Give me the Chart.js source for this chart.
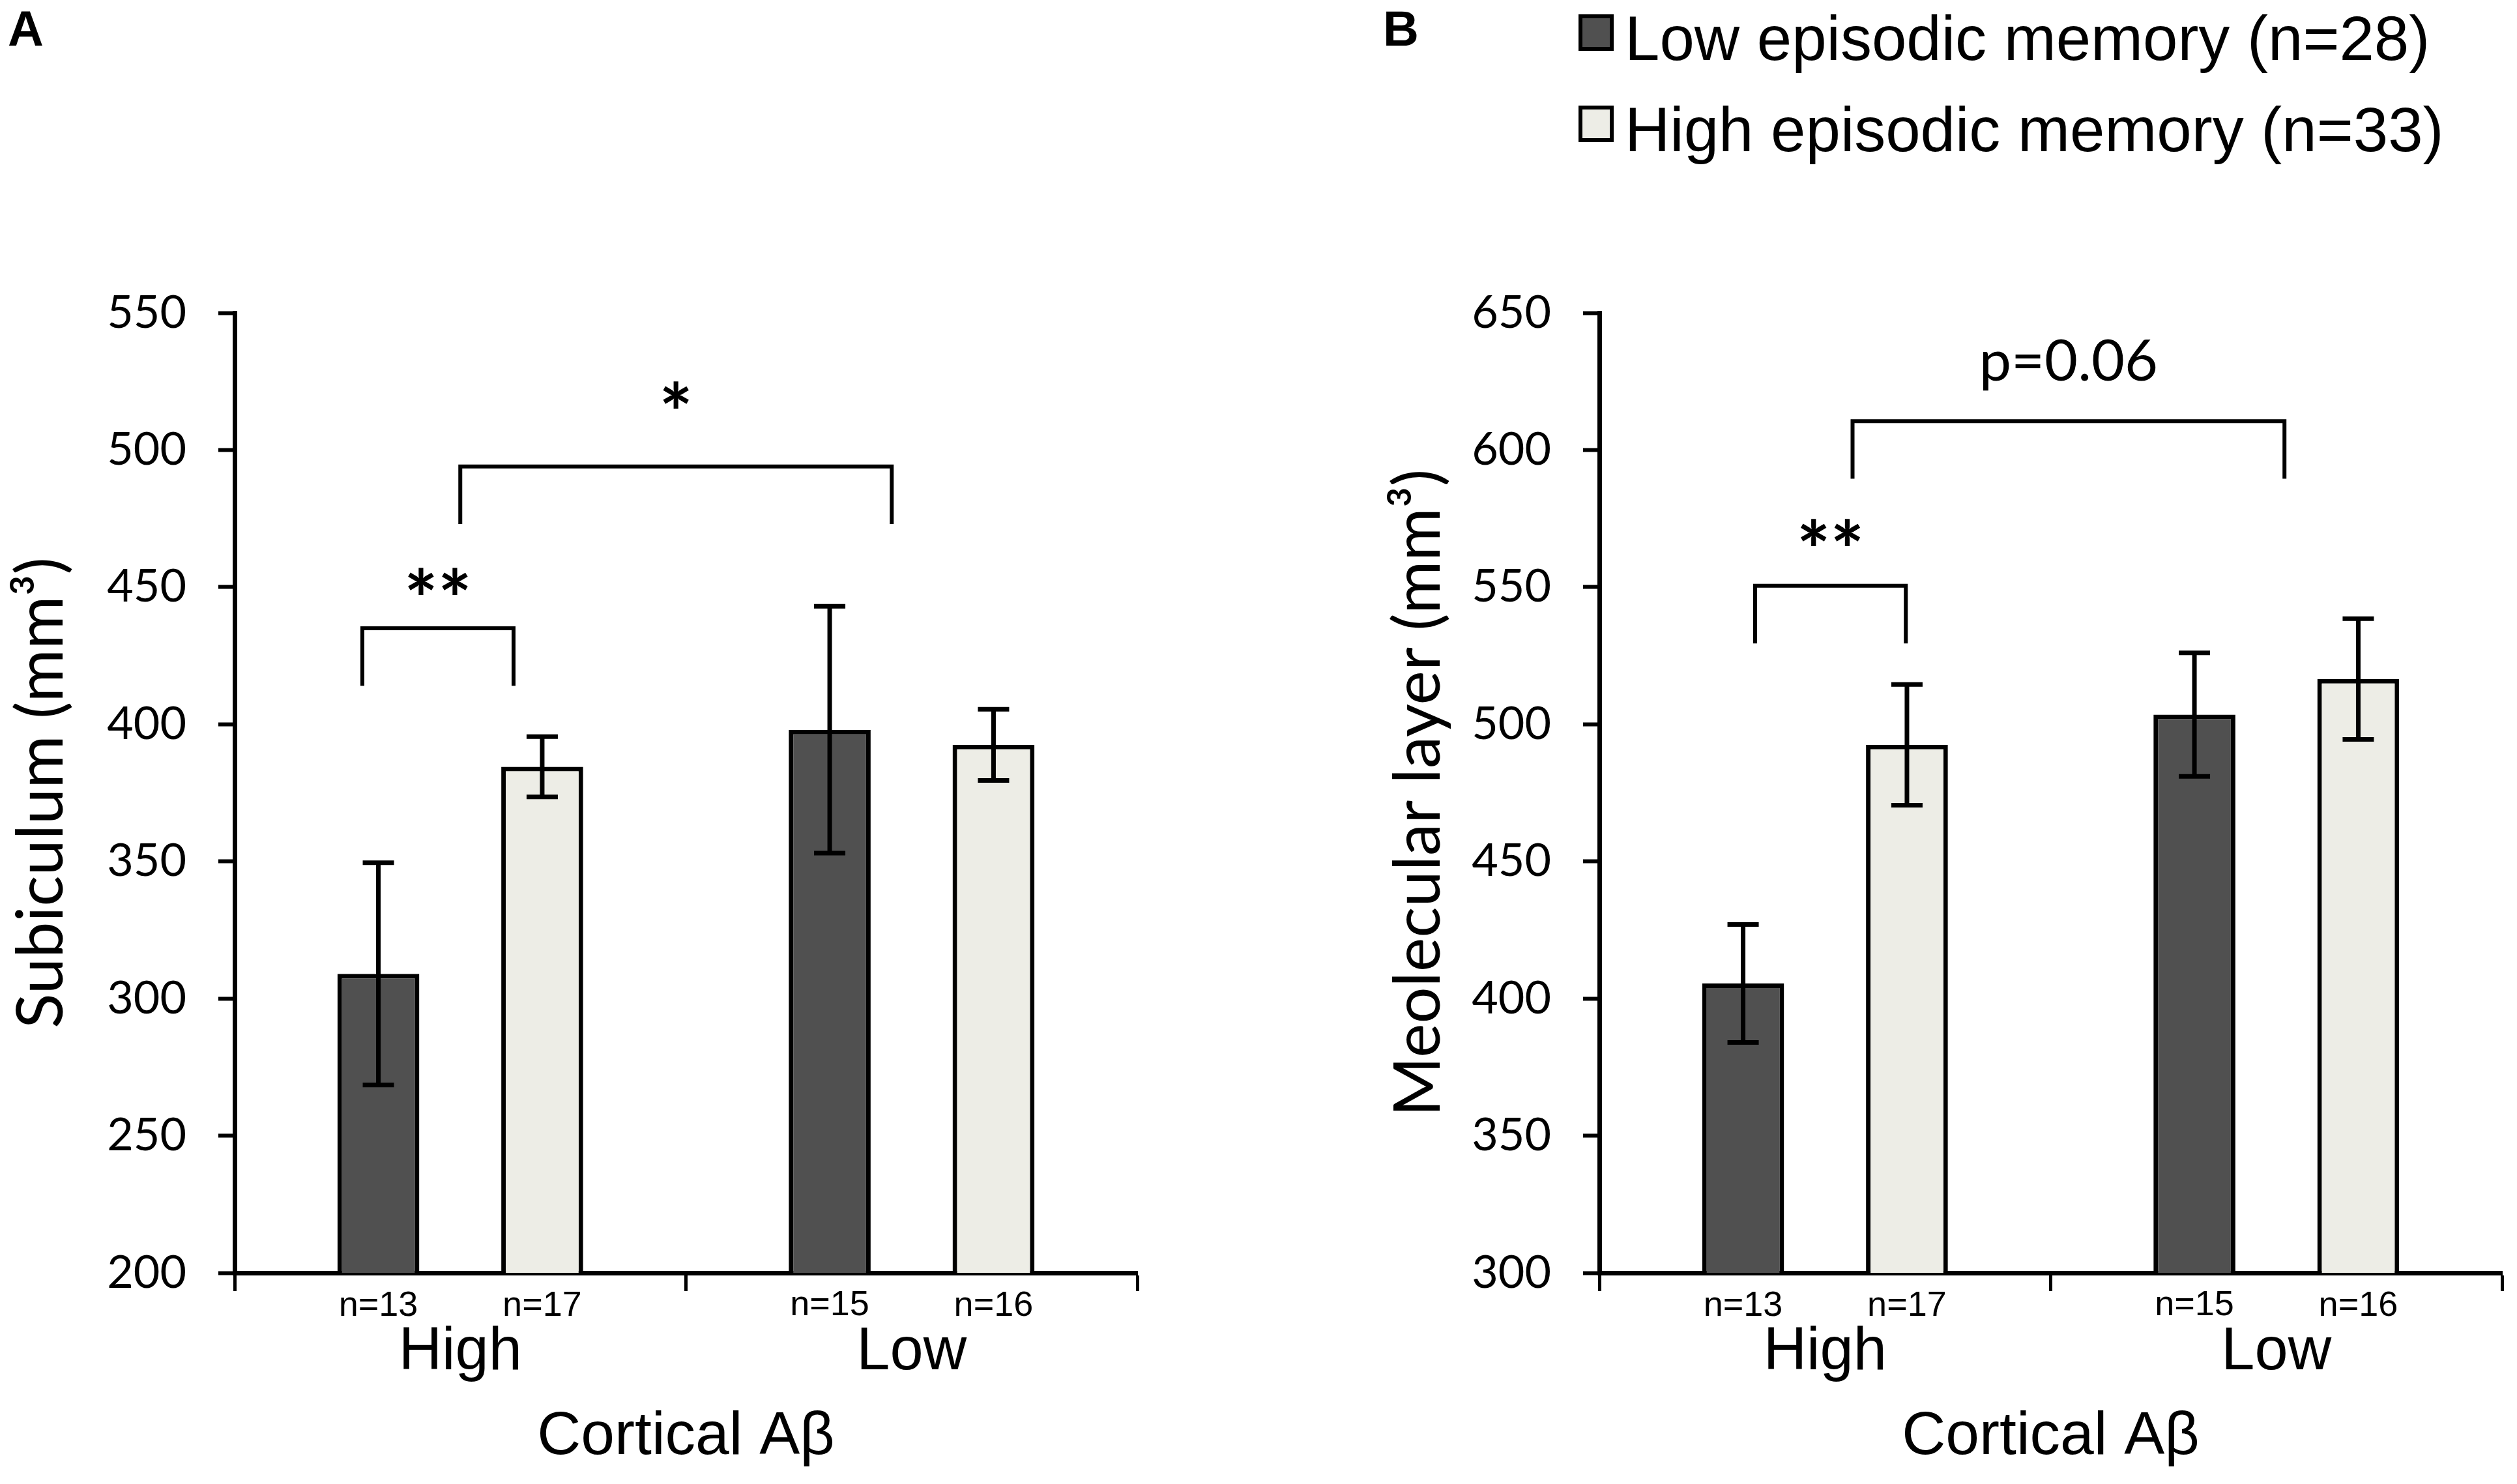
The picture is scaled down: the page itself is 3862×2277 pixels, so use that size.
<!DOCTYPE html>
<html>
<head>
<meta charset="utf-8">
<script src="https://cdn.jsdelivr.net/npm/chart.js@4.4.1/dist/chart.umd.min.js"></script>
<style>
  html, body { margin: 0; padding: 0; background: #fff; }
  #wrap { position: relative; width: 3862px; height: 2277px; }
  canvas { position: absolute; top: 0; }
  #chartA { left: 0; }
  #chartB { left: 1931px; }
</style>
</head>
<body>
<div id="wrap">
  <canvas id="chartA" width="1931" height="2277"></canvas>
  <canvas id="chartB" width="1931" height="2277"></canvas>
</div>
<script>
// categories (Cortical Abeta)
const categories = ['High', 'Low'];
const seriesNames = ['Low episodic memory (n=28)', 'High episodic memory (n=33)'];

// group sizes under each bar
const nLowMemory = [13, 15];
const nHighMemory = [17, 16];

// A: subiculum volume (mm3), mean and error
const subiculumLow = [309, 398];
const subiculumLowErr = [40.5, 45];
const subiculumHigh = [384.5, 392.5];
const subiculumHighErr = [11, 13];

// B: molecular layer volume (mm3)
const molecularLow = [405.5, 503.5];
const molecularLowErr = [21.5, 22.5];
const molecularHigh = [492.5, 516.5];
const molecularHighErr = [22, 22];

// significance brackets, in axis units (x = category index, y = value)
const bracketsA = [
  { x1: -0.217, x2: 0.118, top: 435, drop: 414, text: '**', textY: 452 },
  { x1: 0.0, x2: 0.956, top: 494, drop: 473, text: '*', textY: 520 }
];
const bracketsB = [
  { x1: -0.155, x2: 0.179, top: 550.5, drop: 529.5, text: '**', textY: 570 },
  { x1: 0.061, x2: 1.018, top: 610.5, drop: 589.5, text: 'p=0.06', textY: 631 }
];

const DARK = '#505050';
const LIGHT = '#EDEDE6';

function inkText(ctx, txt, x, y) {
  // draws text with its ink centred on (x, y)
  const m = ctx.measureText(txt);
  ctx.textAlign = 'center';
  ctx.textBaseline = 'alphabetic';
  ctx.fillText(txt, x, y + (m.actualBoundingBoxAscent - m.actualBoundingBoxDescent) / 2);
}

const annotate = {
  id: 'annotate',
  afterDatasetsDraw(chart, args, opts) {
    const ctx = chart.ctx, xs = chart.scales.x, ys = chart.scales.y;
    ctx.save();
    ctx.strokeStyle = '#000';
    ctx.fillStyle = '#000';

    // error bars and n= labels
    chart.data.datasets.forEach((ds, di) => {
      const meta = chart.getDatasetMeta(di);
      meta.data.forEach((bar, i) => {
        const v = ds.data[i], e = ds.errors[i];
        const yt = ys.getPixelForValue(v + e), yb = ys.getPixelForValue(v - e);
        ctx.lineWidth = 7;
        ctx.beginPath();
        ctx.moveTo(bar.x, yt); ctx.lineTo(bar.x, yb);
        ctx.moveTo(bar.x - 24, yt); ctx.lineTo(bar.x + 24, yt);
        ctx.moveTo(bar.x - 24, yb); ctx.lineTo(bar.x + 24, yb);
        ctx.stroke();
        ctx.font = '54px "Liberation Sans"';
        inkText(ctx, 'n=' + ds.counts[i], bar.x, 2000);
      });
    });

    // brackets
    ctx.lineWidth = 6;
    opts.brackets.forEach(b => {
      const xa = xs.getPixelForValue(b.x1), xb = xs.getPixelForValue(b.x2);
      const yt = ys.getPixelForValue(b.top), yd = ys.getPixelForValue(b.drop);
      ctx.beginPath();
      ctx.moveTo(xa, yd); ctx.lineTo(xa, yt); ctx.lineTo(xb, yt); ctx.lineTo(xb, yd);
      ctx.stroke();
      ctx.font = b.text.startsWith('p') ? '88px Lato' : 'bold 122px Lato';
      inkText(ctx, b.text, (xa + xb) / 2, ys.getPixelForValue(b.textY));
    });

    // panel letter
    ctx.font = 'bold 76px "Liberation Sans"';
    ctx.textAlign = 'left';
    ctx.textBaseline = 'alphabetic';
    ctx.fillText(opts.letter, opts.letterX, 70);

    // legend
    if (opts.legend) {
      const sq = [{ y: 22, c: DARK }, { y: 162, c: LIGHT }];
      const base = [92, 232];
      chart.data.datasets.forEach((ds, di) => {
        ctx.fillStyle = sq[di].c;
        ctx.fillRect(491, sq[di].y, 54, 56);
        ctx.lineWidth = 6;
        ctx.strokeRect(494, sq[di].y + 3, 48, 50);
        ctx.fillStyle = '#000';
        ctx.font = '96px "Liberation Sans"';
        ctx.textAlign = 'left';
        ctx.textBaseline = 'alphabetic';
        ctx.fillText(ds.label, 562, base[di]);
      });
    }
    ctx.restore();
  }
};

function makeChart(id, cfg) {
  const data = {
    labels: categories,
    datasets: [
      { label: seriesNames[0], data: cfg.low, errors: cfg.lowErr, counts: nLowMemory,
        backgroundColor: DARK },
      { label: seriesNames[1], data: cfg.high, errors: cfg.highErr, counts: nHighMemory,
        backgroundColor: LIGHT }
    ]
  };
  data.datasets.forEach(ds => {
    ds.borderColor = '#000';
    ds.borderWidth = 7;
    ds.borderSkipped = false;
    ds.categoryPercentage = 0.726;
    ds.barPercentage = 0.5;
  });

  return new Chart(document.getElementById(id), {
    type: 'bar',
    data: data,
    plugins: [annotate],
    options: {
      responsive: false,
      devicePixelRatio: 1,
      animation: false,
      layout: { padding: { left: cfg.padLeft, right: cfg.padRight, top: 480, bottom: 0 } },
      plugins: {
        legend: { display: false },
        tooltip: { enabled: false },
        annotate: { brackets: cfg.brackets, letter: cfg.letter, letterX: cfg.letterX, legend: cfg.legend }
      },
      scales: {
        x: {
          offset: true,
          grid: { offset: true, drawOnChartArea: false, drawTicks: true, tickLength: 28, tickWidth: 5, tickColor: '#000' },
          border: { display: true, color: '#000', width: 7 },
          ticks: { color: '#000', font: { family: 'Liberation Sans', size: 92 }, padding: 39, maxRotation: 0 },
          title: { display: true, text: 'Cortical Aβ', color: '#000',
                   font: { family: 'Liberation Sans', size: 93 }, padding: { top: 0, bottom: 16 } },
          afterFit: s => { s.height = 324; }
        },
        y: {
          min: cfg.min, max: cfg.max,
          grid: { drawOnChartArea: false, drawTicks: true, tickLength: 25, tickWidth: 6, tickColor: '#000' },
          border: { display: true, color: '#000', width: 7 },
          ticks: { stepSize: 50, color: '#000', font: { family: 'Lato', size: 70 }, padding: 49 },
          title: { display: true, text: cfg.yTitle, color: '#000',
                   font: { family: 'Lato', size: 99 }, padding: { top: 5, bottom: 0 } },
          afterFit: s => { s.width = cfg.yWidth; }
        }
      }
    }
  });
}

makeChart('chartA', {
  low: subiculumLow, lowErr: subiculumLowErr, high: subiculumHigh, highErr: subiculumHighErr,
  min: 200, max: 550, yTitle: 'Subiculum (mm³)', brackets: bracketsA,
  padLeft: 0, yWidth: 360, padRight: 186, letter: 'A', letterX: 12, legend: false
});

makeChart('chartB', {
  low: molecularLow, lowErr: molecularLowErr, high: molecularHigh, highErr: molecularHighErr,
  min: 300, max: 650, yTitle: 'Meolecular layer (mm³)', brackets: bracketsB,
  padLeft: 182, yWidth: 341, padRight: 23, letter: 'B', letterX: 191, legend: true
});
</script>
</body>
</html>
